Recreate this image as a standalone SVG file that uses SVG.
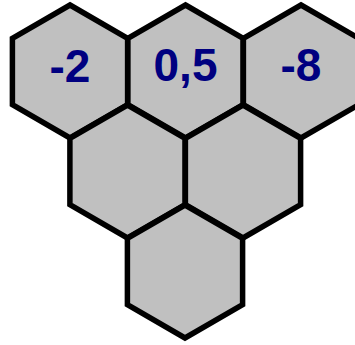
<svg xmlns="http://www.w3.org/2000/svg" xmlns:xlink="http://www.w3.org/1999/xlink" width="355" height="345" viewBox="0 0 355 345">
<style>
.hex{fill:#c0c0c0;stroke:#000;stroke-width:5.5;stroke-linejoin:miter}
.lbl{font-family:"Liberation Sans",Arial,sans-serif;font-weight:bold;font-size:46px;fill:#000080;text-anchor:middle}
</style>
<defs>
<polygon id="h" class="hex" points="0,-66.5 57.6,-33.25 57.6,33.25 0,66.5 -57.6,33.25 -57.6,-33.25"/>
</defs>
<rect width="355" height="345" fill="#fff"/>
<g id="connectors"/>
<g id="hex1"><use href="#h" xlink:href="#h" x="70" y="71.5"/><text class="lbl" x="70" y="82">-2</text></g>
<g id="hex2"><use href="#h" xlink:href="#h" x="185.5" y="71.5"/><text class="lbl" x="185.5" y="81">0,5</text></g>
<g id="hex3"><use href="#h" xlink:href="#h" x="301" y="71.5"/><text class="lbl" x="301" y="81">-8</text></g>
<g id="hex4"><use href="#h" xlink:href="#h" x="127.5" y="171.5"/></g>
<g id="hex5"><use href="#h" xlink:href="#h" x="243" y="171.5"/></g>
<g id="hex6"><use href="#h" xlink:href="#h" x="185" y="271.5"/></g>
</svg>
